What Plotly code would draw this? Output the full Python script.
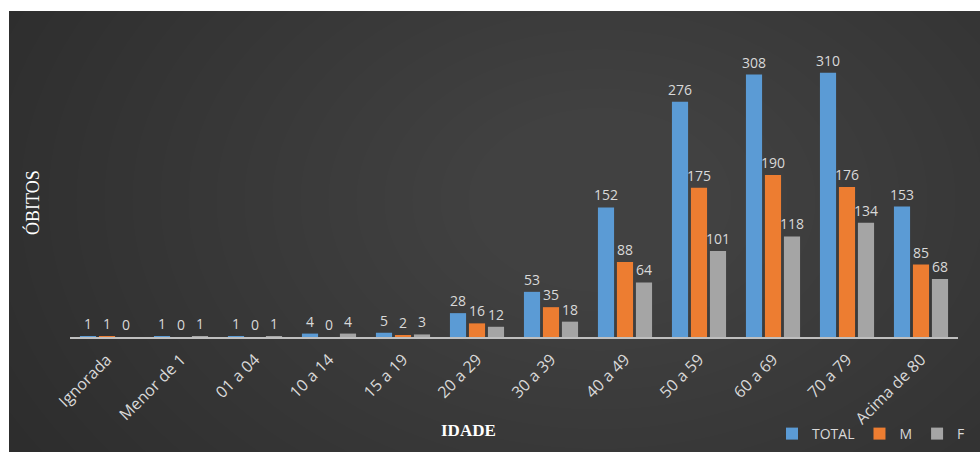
import plotly.graph_objects as go

categories = ["Ignorada", "Menor de 1", "01 a 04", "10 a 14", "15 a 19", "20 a 29",
              "30 a 39", "40 a 49", "50 a 59", "60 a 69", "70 a 79", "Acima de 80"]
total = [1, 1, 1, 4, 5, 28, 53, 152, 276, 308, 310, 153]
masc = [1, 0, 0, 0, 2, 16, 35, 88, 175, 190, 176, 85]
fem = [0, 1, 1, 4, 3, 12, 18, 64, 101, 118, 134, 68]

W, H = 980, 452
ML, MR, MT, MB = 70, 22, 20, 115
PW, PH = W - ML - MR, H - MT - MB

def px(x):
    return (x - ML) / PW

def py(y):
    return (H - MB - y) / PH

fig = go.Figure()
lab_font = dict(family="Open Sans, sans-serif", size=14, color="#d9d9d9")
for name, vals, col in [("TOTAL", total, "#5B9BD5"), ("M", masc, "#ED7D31"), ("F", fem, "#A5A5A5")]:
    fig.add_trace(go.Bar(x=categories, y=vals, name=name, marker=dict(color=col, line=dict(width=0)),
                         text=[str(v) for v in vals], textposition="outside", cliponaxis=False,
                         textfont=lab_font))

shapes = [dict(type="rect", xref="paper", yref="paper", x0=px(0), x1=px(981), y0=py(0), y1=py(453),
               fillcolor="#2b2b2b", line=dict(width=0), layer="below")]
cx, cy = 600, 200
n = 22
for i in range(n):
    r = 720 - i * 28
    shapes.append(dict(type="circle", xref="paper", yref="paper",
                       x0=px(cx - r), x1=px(cx + r),
                       y0=py(cy + r * 0.7), y1=py(cy - r * 0.7),
                       fillcolor="rgba(255,255,255,0.0085)", line=dict(width=0), layer="below"))
# white margins of the picture
shapes.append(dict(type="rect", xref="paper", yref="paper", x0=px(-5), x1=px(990), y0=py(11), y1=py(-5),
                   fillcolor="white", line=dict(width=0), layer="below"))
shapes.append(dict(type="rect", xref="paper", yref="paper", x0=px(-5), x1=px(9), y0=py(460), y1=py(-5),
                   fillcolor="white", line=dict(width=0), layer="below"))

fig.update_layout(
    width=W, height=H,
    margin=dict(l=ML, r=MR, t=MT, b=MB, autoexpand=False),
    paper_bgcolor="white", plot_bgcolor="rgba(0,0,0,0)",
    barmode="group", bargap=0.23, bargroupgap=0.15,
    uniformtext=dict(minsize=14, mode="show"),
    shapes=shapes,
    showlegend=True,
    legend=dict(orientation="h", x=px(772), xanchor="left", y=py(418), yanchor="top",
                font=dict(family="Open Sans, sans-serif", size=14, color="#d9d9d9"),
                bgcolor="rgba(0,0,0,0)", itemwidth=30, traceorder="normal"),
    xaxis=dict(showline=True, linecolor="#bfbfbf", linewidth=2, ticks="", tickangle=-45,
               tickfont=dict(family="Open Sans, sans-serif", size=16, color="#d9d9d9"),
               ticklabelstandoff=5,
               showgrid=False, zeroline=False, automargin=False),
    yaxis=dict(range=[0, 372], showticklabels=False, showgrid=False, zeroline=False, showline=False,
               automargin=False),
    annotations=[
        dict(text="<b>IDADE</b>", xref="paper", yref="paper", x=px(468), y=py(430),
             xanchor="center", yanchor="middle",
             showarrow=False, font=dict(family="Liberation Serif, serif", size=17, color="#ffffff")),
        dict(text="ÓBITOS", xref="paper", yref="paper", x=px(32), y=py(203), textangle=-90,
             xanchor="center", yanchor="middle",
             showarrow=False, font=dict(family="Liberation Serif, serif", size=18, color="#ffffff")),
    ],
)

fig.write_html("out.html")
